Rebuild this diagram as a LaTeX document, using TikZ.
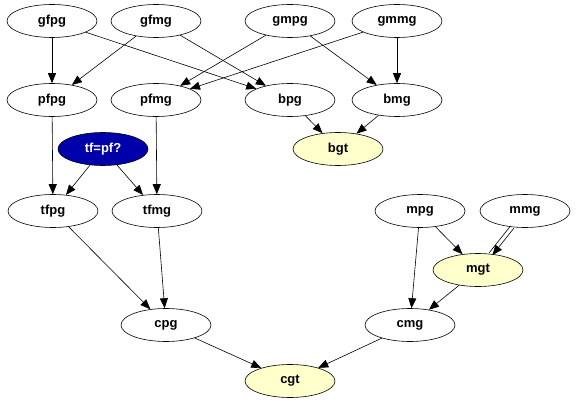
\documentclass[tikz,border=0pt]{standalone}
\usepackage{fontspec}
\setmainfont{Liberation Sans}
\usetikzlibrary{shapes.geometric,arrows.meta}
\definecolor{bluenode}{RGB}{0,0,170}
\definecolor{yellownode}{RGB}{255,255,204}
\begin{document}
\begin{tikzpicture}[x=1pt,y=-1pt,
  gnode/.style={ellipse,draw=black,line width=0.6pt,minimum width=90pt,minimum height=33pt,inner sep=0pt,
    font=\fontsize{13}{15}\selectfont\bfseries},
  goal/.style={gnode,fill=yellownode},
  query/.style={gnode,fill=bluenode,text=white},
  arr/.style={draw=black,line width=0.6pt,-{Triangle[length=10pt,width=8pt]}},
  plain/.style={draw=black,line width=0.6pt}]
\useasboundingbox (0,0) rectangle (580,406);
\node[gnode] (gfpg) at (52,21) {gfpg};
\node[gnode] (gfmg) at (156,21) {gfmg};
\node[gnode] (gmpg) at (290,21) {gmpg};
\node[gnode] (gmmg) at (397,21) {gmmg};
\node[gnode] (pfpg) at (52,100) {pfpg};
\node[gnode] (pfmg) at (156,100) {pfmg};
\node[gnode] (bpg) at (290,100) {bpg};
\node[gnode] (bmg) at (397,100) {bmg};
\node[query] (tfpf) at (103,149) {tf=pf?};
\node[goal] (bgt) at (338,149) {bgt};
\node[gnode] (tfpg) at (53,211) {tfpg};
\node[gnode] (tfmg) at (157,211) {tfmg};
\node[gnode] (mpg) at (420,211) {mpg};
\node[gnode] (mmg) at (525,211) {mmg};
\node[goal] (mgt) at (478,270) {mgt};
\node[gnode] (cpg) at (166,325) {cpg};
\node[gnode] (cmg) at (410,325) {cmg};
\node[goal] (cgt) at (290,381) {cgt};

\draw[arr] (gfpg) -- (pfpg);
\draw[arr] (gfpg) -- (bpg);
\draw[arr] (gfmg) -- (pfpg);
\draw[arr] (gfmg) -- (bpg);
\draw[arr] (gmpg) -- (pfmg);
\draw[arr] (gmpg) -- (bmg);
\draw[arr] (gmmg) -- (pfmg);
\draw[arr] (gmmg) -- (bmg);
\draw[arr] (pfpg) -- (tfpg);
\draw[arr] (pfmg) -- (tfmg);
\draw[arr] (tfpf) -- (tfpg);
\draw[arr] (tfpf) -- (tfmg);
\draw[arr] (bpg) -- (bgt);
\draw[arr] (bmg) -- (bgt);
\draw[arr] (tfpg) -- (cpg);
\draw[arr] (tfmg) -- (cpg);
\draw[arr] (cpg) -- (cgt);
\draw[arr] (mpg) -- (cmg);
\draw[arr] (mpg) -- (mgt);
\draw[arr,transform canvas={shift={(1.6pt,-1.2pt)}}] (mmg) -- (mgt);
\draw[plain,transform canvas={shift={(-1.6pt,1.2pt)}}] (mmg) -- (mgt);
\draw[arr] (mgt) -- (cmg);
\draw[arr] (cmg) -- (cgt);
\end{tikzpicture}
\end{document}
